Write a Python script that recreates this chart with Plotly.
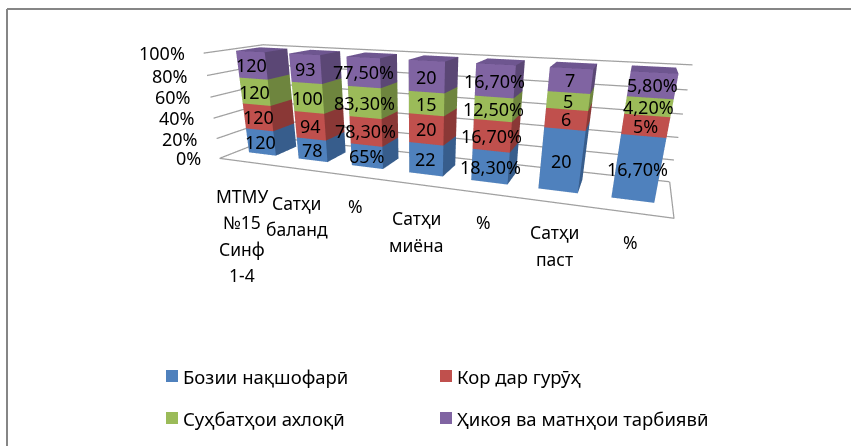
import numpy as np
import plotly.graph_objects as go

# ---------- data ----------
categories = ["МТМУ<br>№15<br>Синф<br>1-4", "Сатҳи<br>баланд", "%", "Сатҳи<br>миёна", "%", "Сатҳи<br>паст", "%"]
series_names = ["Бозии нақшофарӣ", "Кор дар гурӯҳ", "Суҳбатҳои ахлоқӣ", "Ҳикоя ва матнҳои тарбиявӣ"]
bozi = [120, 78, 65, 22, 18.3, 20, 16.7]
kor = [120, 94, 78.3, 20, 16.7, 6, 5]
suhbat = [120, 100, 83.3, 15, 12.5, 5, 4.2]
hikoya = [120, 93, 77.5, 20, 16.7, 7, 5.8]
is_percent = [False, False, True, False, True, False, True]
z_ticks = [0, 0.2, 0.4, 0.6, 0.8, 1.0]
z_labels = ["0%", "20%", "40%", "60%", "80%", "100%"]

# ---------- style ----------
front_colors = ["#4F81BD", "#C0504D", "#9BBB59", "#8064A2"]
side_colors = ["#375D8C", "#8A3836", "#6E853E", "#5B4775"]
top_colors = ["#4A78B0", "#B34A47", "#90AE52", "#6E5690"]
FONT = "Noto Sans"
W, H = 851, 446
BAR_LO, BAR_HI = 0.225, 0.775
Y0, Y1 = 0.321, 0.734
cat_dx = [-2, 0, 2, 2, 3, 2, -1]
cat_dy = [0, 0, 4, 0, 5, 4, 5]
LINE_STEP = 26.5
legend_cols = [166, 440, 166, 440]
legend_rows = [376, 376, 418, 418]


def txt(size=18):
    return dict(family=FONT, size=size, color="#000000")


# ---------- bars ----------
n = len(categories)
values = np.array([bozi, kor, suhbat, hikoya], float)
frac = values / values.sum(axis=0)
base = np.vstack([np.zeros(n), np.cumsum(frac, axis=0)[:-1]])
traces, notes = [], []
for s in range(4):
    xs, ys, zs, I, J, K, fc = [], [], [], [], [], [], []
    for i in range(n):
        x0, x1 = i + BAR_LO, i + BAR_HI
        z0, z1 = base[s, i], base[s, i] + frac[s, i]
        o = len(xs)
        for zz in (z0, z1):
            for yy in (Y0, Y1):
                for xx in (x0, x1):
                    xs.append(xx); ys.append(yy); zs.append(zz)
        faces = [((0, 1, 5, 4), front_colors[s]), ((1, 3, 7, 5), side_colors[s]), ((4, 5, 7, 6), top_colors[s]),
                 ((0, 2, 6, 4), side_colors[s]), ((2, 3, 7, 6), side_colors[s]), ((0, 1, 3, 2), side_colors[s])]
        for (a, b, c, d), col in faces:
            I += [o + a, o + a]; J += [o + b, o + c]; K += [o + c, o + d]; fc += [col, col]
        v = values[s, i]
        if is_percent[i]:
            t = ("%d%%" % v) if float(v).is_integer() else ("%.2f%%" % v).replace(".", ",")
        else:
            t = "%d" % v
        notes.append(dict(x=i + .5, y=Y0, z=(z0 + z1) / 2, text=t, showarrow=False, font=txt()))
    traces.append(go.Mesh3d(x=xs, y=ys, z=zs, i=I, j=J, k=K, facecolor=fc, flatshading=True,
                            lighting=dict(ambient=1, diffuse=0, specular=0, fresnel=0),
                            hoverinfo="skip", showlegend=False))

# ---------- grid ----------
gx, gy, gz = [], [], []
for t in z_ticks:
    gx += [0, 0, n, None]; gy += [0, 1, 1, None]; gz += [t, t, t, None]
gx += [0, n, n]; gy += [0, 0, 1]; gz += [0, 0, 0]
traces.append(go.Scatter3d(x=gx, y=gy, z=gz, mode="lines", line=dict(color="#A0A0A0", width=2.5),
                           hoverinfo="skip", showlegend=False))
for t, l in zip(z_ticks, z_labels):
    notes.append(dict(x=0, y=0, z=t, text=l, showarrow=False, xanchor="right", xshift=-17, font=txt()))
for i, l in enumerate(categories):
    for k, part in enumerate(l.split("<br>")):
        notes.append(dict(x=i + .5, y=0, z=0, text=part, showarrow=False, yanchor="top",
                          xshift=cat_dx[i], yshift=-20 + cat_dy[i] - LINE_STEP * k, font=txt(17.5)))

# ---------- legend ----------
shapes = [
    dict(type="line", xref="paper", yref="paper", x0=7 / W, x1=1, y0=1 - 9 / H, y1=1 - 9 / H, line=dict(color="#868686", width=2)),
    dict(type="line", xref="paper", yref="paper", x0=7 / W, x1=7 / W, y0=1 - 9 / H, y1=0, line=dict(color="#868686", width=2)),
]
annots = []
for s in range(4):
    lx, ly = legend_cols[s], legend_rows[s]
    shapes.append(dict(type="rect", xref="paper", yref="paper", x0=lx / W, x1=(lx + 12) / W,
                       y0=1 - (ly - 6) / H, y1=1 - (ly + 6) / H, line=dict(width=0), fillcolor=front_colors[s]))
    annots.append(dict(xref="paper", yref="paper", x=(lx + 18) / W, y=1 - ly / H, xanchor="left", yanchor="middle",
                       xshift=-3, showarrow=False, text=series_names[s], font=txt(18.5)))

fig = go.Figure(traces)
fig.update_layout(
    width=W, height=H, margin=dict(l=0, r=0, t=0, b=0), paper_bgcolor="white", plot_bgcolor="white",
    showlegend=False,
    scene=dict(
        domain=dict(x=[0, 1], y=[0, 1]),
        xaxis=dict(visible=False, range=[0, n]),
        yaxis=dict(visible=False, range=[0, 1]),
        zaxis=dict(visible=False, range=[0, 1]),
        aspectmode="manual", aspectratio=dict(x=1, y=0.2140, z=0.2407),
        camera=dict(eye=dict(x=0.3955, y=-1.0939, z=0.2524), center=dict(x=0.1132, y=-0.3406, z=-0.0967),
                    up=dict(x=-0.0307, y=0.0645, z=1), projection=dict(type="perspective")),
        annotations=notes,
    ),
    shapes=shapes,
    annotations=annots,
)
fig.write_html("out.html", config=dict(displayModeBar=False),
               post_script="document.body.style.margin='0';")
